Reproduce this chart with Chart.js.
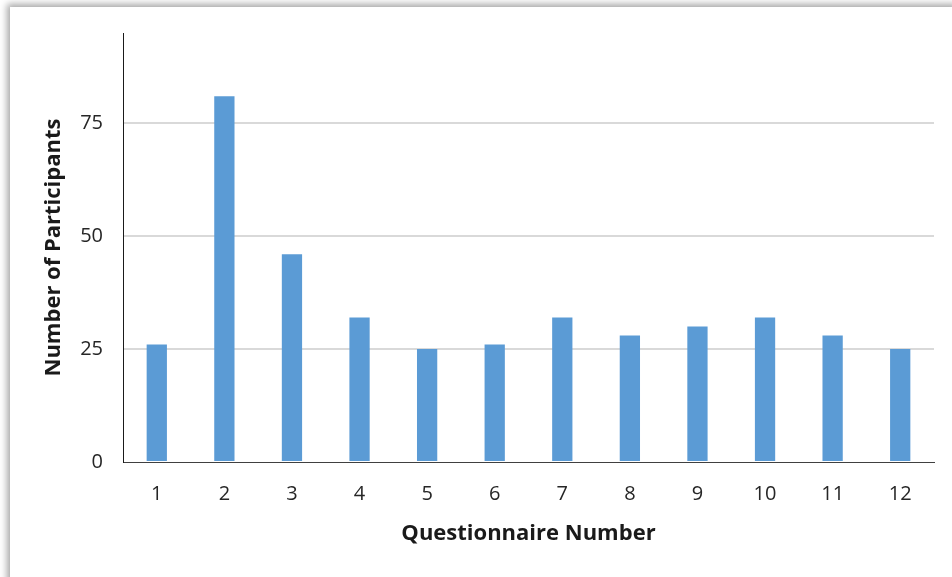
<!DOCTYPE html>
<html lang="en">
<head>
    <meta charset="UTF-8">
    <title>Participants per questionnaire</title>
    <script src="https://cdn.jsdelivr.net/npm/chart.js"></script>
    <style>
        html, body {
            margin: 0;
            padding: 0;
            background: #fff;
            width: 952px;
            height: 577px;
            overflow: hidden;
        }
        .card {
            position: absolute;
            left: 10px;
            top: 7px;
            width: 950px;
            height: 580px;
            background: #fff;
            box-shadow: -3px -3px 7px rgba(0, 0, 0, 0.35);
        }
        .chart-container {
            position: absolute;
            left: 0;
            top: 0;
            width: 952px;
            height: 577px;
        }
    </style>
</head>
<body>
<div class="card"></div>
<div class="chart-container">
    <canvas id="participantsChart"></canvas>
</div>

<script>
    // 설문지 번호 (x축)
    const questionnaires = ['1', '2', '3', '4', '5', '6', '7', '8', '9', '10', '11', '12'];
    // 참여자 수
    const participants = [26, 81, 46, 32, 25, 26, 32, 28, 30, 32, 28, 25];
    // y축 눈금
    const yTicks = [0, 25, 50, 75];
    const yMax = 95;

    const ctx = document.getElementById('participantsChart').getContext('2d');
    const participantsChart = new Chart(ctx, {
        type: 'bar',
        data: {
            labels: questionnaires,
            datasets: [{
                label: 'Number of Participants',
                data: participants,
                backgroundColor: '#5B9BD5',
                borderWidth: 0,
                barPercentage: 0.6,
                categoryPercentage: 0.5
            }]
        },
        options: {
            responsive: true,
            maintainAspectRatio: false,
            animation: false,
            layout: {
                padding: { left: 37, top: 33, right: 18, bottom: 26 }
            },
            plugins: {
                legend: { display: false },
                tooltip: { enabled: false }
            },
            scales: {
                x: {
                    grid: { display: false, drawTicks: false },
                    border: { display: true, color: '#404040', width: 1 },
                    ticks: {
                        padding: 20,
                        color: '#262626',
                        font: { family: 'Open Sans', size: 20 }
                    },
                    title: {
                        display: true,
                        text: 'Questionnaire Number',
                        color: '#1a1a1a',
                        font: { family: 'Open Sans', size: 22, weight: 'bold' }
                    },
                    afterFit: (scale) => { scale.height = 89; }
                },
                y: {
                    min: 0,
                    max: yMax,
                    afterBuildTicks: (scale) => {
                        scale.ticks = yTicks.map(v => ({ value: v }));
                    },
                    grid: {
                        drawTicks: false,
                        color: (c) => c.tick && c.tick.value === 0 ? 'rgba(0,0,0,0)' : '#D9D9D9',
                        lineWidth: 2
                    },
                    border: { display: true, color: '#1a1a1a', width: 1 },
                    ticks: {
                        padding: 20,
                        color: '#262626',
                        font: { family: 'Open Sans', size: 20 }
                    },
                    title: {
                        display: true,
                        text: 'Number of Participants',
                        color: '#1a1a1a',
                        font: { family: 'Open Sans', size: 22, weight: 'bold' }
                    },
                    afterFit: (scale) => { scale.width = 86; }
                }
            }
        }
    });
</script>
</body>
</html>
